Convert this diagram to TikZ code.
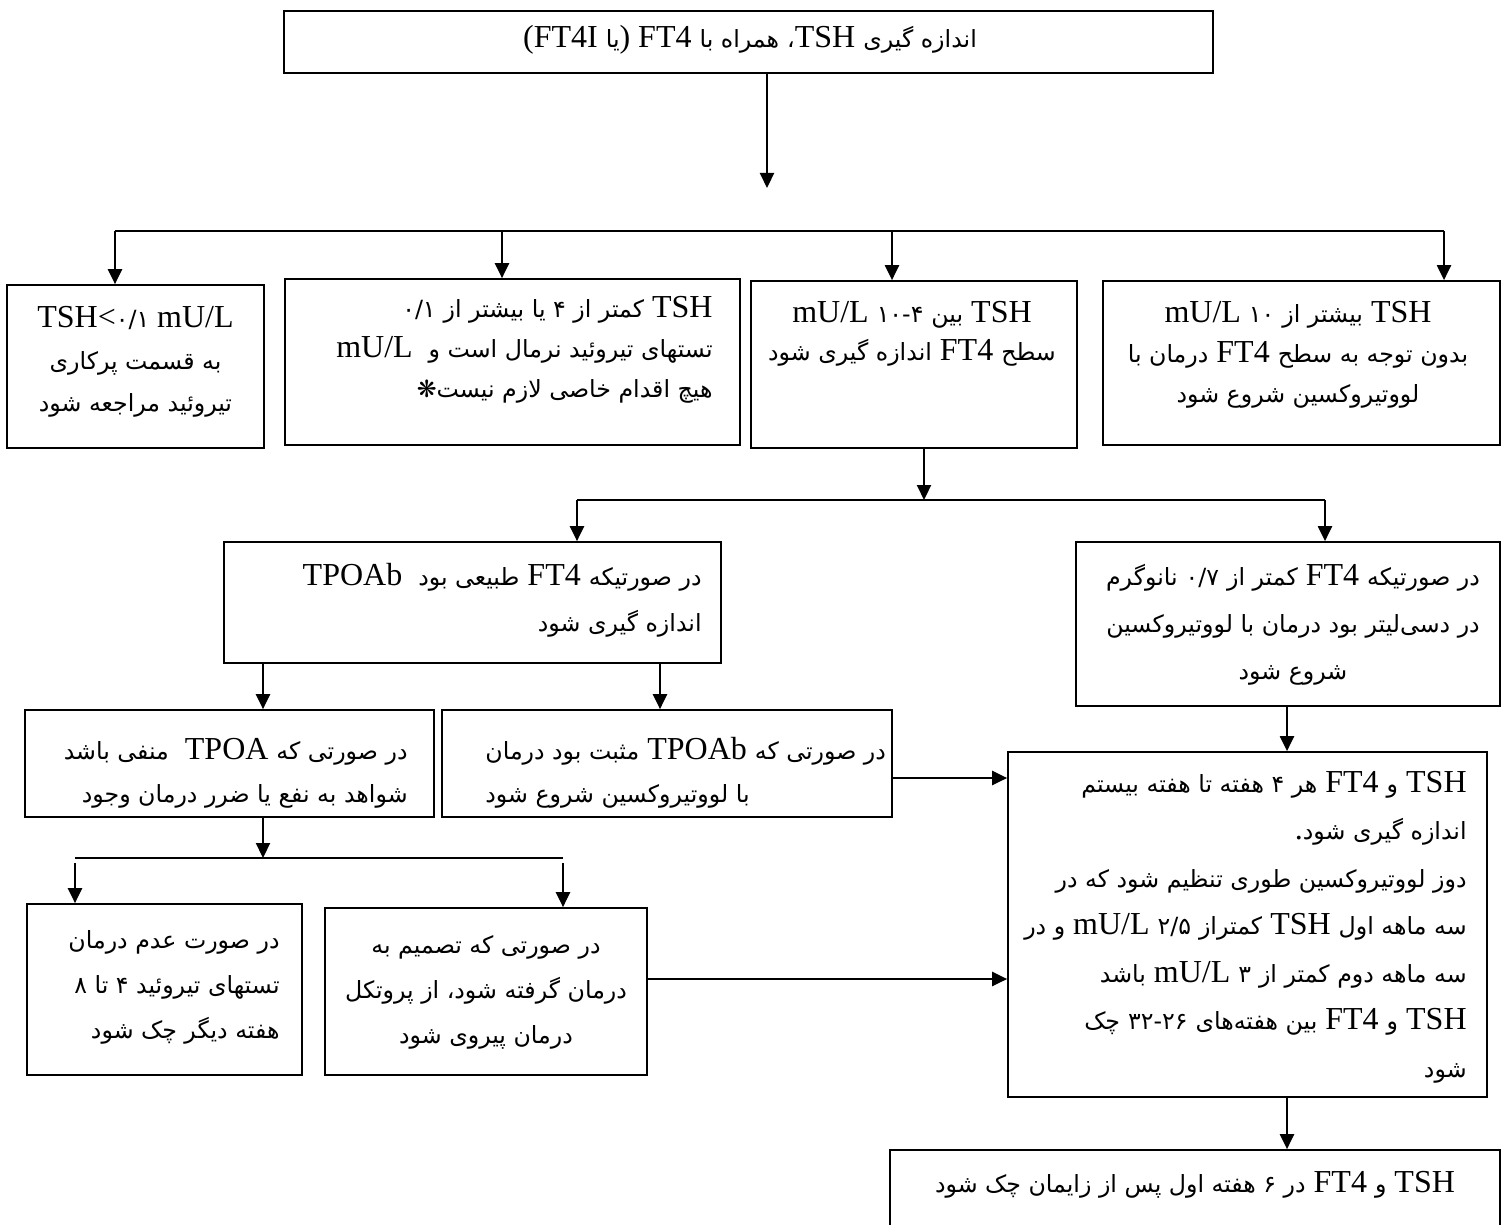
\documentclass[tikz,border=0pt]{standalone}
\usepackage{fontspec}
\setmainfont{Liberation Serif}
\newfontfamily\fa[Script=Arabic,Scale=0.74]{DejaVu Sans}
\TeXXeTstate=1
\usetikzlibrary{arrows.meta}
\newcommand\pr[1]{{\fa\beginR #1\endR}}
\newcommand\pn[1]{{\fa #1}}
\tikzset{
  box/.style={draw, line width=0.85pt, inner sep=0pt, rectangle},
  txt/.style={inner sep=0pt, font=\fontsize{16}{#1}\selectfont},
  txt/.default=23.5pt,
  conn/.style={line width=1.1pt},
  arr/.style={line width=1.1pt, -{Triangle[length=7.5pt,width=7pt]}}
}
\begin{document}
\begin{tikzpicture}[x=0.5pt,y=-0.5pt]
\useasboundingbox (0,0) rectangle (1504,1225);
% boxes
\node[box, line width=1.2pt, minimum width=464.5pt, minimum height=31pt] (A) at (748.5,42) {};
\node[box, minimum width=128.5pt, minimum height=81.5pt] (B1) at (135.5,366.5) {};
\node[box, minimum width=227.5pt, minimum height=83pt] (B2) at (512.5,362) {};
\node[box, minimum width=163pt, minimum height=83.5pt] (B3) at (914,364.5) {};
\node[box, minimum width=198.5pt, minimum height=82pt] (B4) at (1301.5,363) {};
\node[box, minimum width=248.5pt, minimum height=60.5pt] (C1) at (472.5,602.5) {};
\node[box, minimum width=212pt, minimum height=82pt] (C2) at (1288,624) {};
\node[box, minimum width=204.5pt, minimum height=53.5pt] (D1) at (229.5,763.5) {};
\node[box, minimum width=225pt, minimum height=53.5pt] (D2) at (667,763.5) {};
\node[box, minimum width=137.5pt, minimum height=85.5pt] (D3) at (164.5,989.5) {};
\node[box, minimum width=161pt, minimum height=83.5pt] (D4) at (486,991.5) {};
\node[box, minimum width=239.5pt, minimum height=172.5pt] (E) at (1247.5,924.5) {};
\node[box, minimum width=305pt, minimum height=50pt] (F) at (1195,1200) {};
% texts
\node[txt, anchor=center] (tA) at (750,40) {(FT4I \pr{یا}) FT4 \pr{همراه با} \pn{،}TSH \pr{اندازه گیری}};
\node[txt=21pt, align=center, anchor=center] (tB1) at (135.5,362) {TSH<\pn{۰/۱} mU/L\\ \pr{به قسمت پرکاری}\\ \pr{تیروئید مراجعه شود}};
\node[txt=20pt, align=right, anchor=east] (tB2) at (713,350) {\pn{۰/۱} \pr{کمتر از ۴ یا بیشتر از} TSH\\ mU/L\ \ \pr{تستهای تیروئید نرمال است و}\\ \pn{❋}\pr{هیچ اقدام خاصی لازم نیست}};
\node[txt=19pt, align=center, anchor=center] (tB3) at (912,334) {mU/L \pn{۱۰-۴} \pr{بین} TSH\\ \pr{اندازه گیری شود} FT4 \pr{سطح}};
\node[txt=20pt, align=center, anchor=center] (tB4) at (1298,355) {mU/L \pn{۱۰} \pr{بیشتر از} TSH\\ \pr{درمان با} FT4 \pr{بدون توجه به سطح}\\ \pr{لووتیروکسین شروع شود}};
\node[txt=23pt, align=right, anchor=east] (tC1) at (702,600) {TPOAb\ \ \pr{طبیعی بود} FT4 \pr{در صورتیکه}\\ \pr{اندازه گیری شود}};
\node[txt=23.5pt, align=center, anchor=center] (tC2) at (1293,625) {\pr{نانوگرم} \pn{۰/۷} \pr{کمتر از} FT4 \pr{در صورتیکه}\\ \pr{در دسی‌لیتر بود درمان با لووتیروکسین}\\ \pr{شروع شود}};
\node[txt=21.5pt, align=right, anchor=east] (tD1) at (408,773) {\pr{منفی باشد}\ \ TPOA \pr{در صورتی که}\\ \pr{شواهد به نفع یا ضرر درمان وجود}};
\node[txt=21.5pt, align=left, anchor=west] (tD2) at (485,773) {\pr{مثبت بود درمان} TPOAb \pr{در صورتی که}\\ \pr{با لووتیروکسین شروع شود}};
\node[txt=22.5pt, align=right, anchor=east] (tD3) at (280,987) {\pr{در صورت عدم درمان}\\ \pr{تستهای تیروئید ۴ تا ۸}\\ \pr{هفته دیگر چک شود}};
\node[txt=22.5pt, align=center, anchor=center] (tD4) at (486,992) {\pr{در صورتی که تصمیم به}\\ \pr{درمان گرفته شود، از پروتکل}\\ \pr{درمان پیروی شود}};
\node[txt=23.75pt, align=right, anchor=east] (tE) at (1467,927) {\pr{هر ۴ هفته تا هفته بیستم} FT4 \pr{و} TSH\\ .\pr{اندازه گیری شود}\\ \pr{دوز لووتیروکسین طوری تنظیم شود که در}\\ \pr{و در} mU/L \pn{۲/۵} \pr{کمتراز} TSH \pr{سه ماهه اول}\\ \pr{باشد} mU/L \pn{۳} \pr{سه ماهه دوم کمتر از}\\ \pr{چک} \pn{۳۲-۲۶} \pr{بین هفته‌های} FT4 \pr{و} TSH\\ \pr{شود}};
\node[txt, anchor=center] (tF) at (1195,1185) {\pr{در ۶ هفته اول پس از زایمان چک شود} FT4 \pr{و} TSH};
% coordinates for connectors
\coordinate (a1) at (767,188);
\coordinate (s1) at (115,231);
\coordinate (s2) at (502,231);
\coordinate (s3) at (892,231);
\coordinate (s4) at (1444,231);
\coordinate (j1) at (924,500);
\coordinate (j1l) at (577,500);
\coordinate (j1r) at (1325,500);
\coordinate (xc1) at (263,0);
\coordinate (xc2) at (660,0);
\coordinate (xe) at (1287,0);
\coordinate (yd2) at (0,778);
\coordinate (yd4) at (0,979);
\coordinate (j2) at (263,858);
\coordinate (j2l) at (75,858);
\coordinate (j2r) at (563,858);
\coordinate (j2la) at (75,863);
\coordinate (j2ra) at (563,863);
% connectors
\draw[arr] (A.south -| a1) -- (a1);
\draw[conn] (s1) -- (s4);
\draw[arr] (s1) -- (s1 |- B1.north);
\draw[arr] (s2) -- (s2 |- B2.north);
\draw[arr] (s3) -- (s3 |- B3.north);
\draw[arr] (s4) -- (s4 |- B4.north);
\draw[arr] (B3.south -| j1) -- (j1);
\draw[conn] (j1l) -- (j1r);
\draw[arr] (j1l) -- (j1l |- C1.north);
\draw[arr] (j1r) -- (j1r |- C2.north);
\draw[arr] (C1.south -| xc1) -- (D1.north -| xc1);
\draw[arr] (C1.south -| xc2) -- (D2.north -| xc2);
\draw[arr] (C2.south -| xe) -- (E.north -| xe);
\draw[arr] (D2.east |- yd2) -- (E.west |- yd2);
\draw[arr] (D1.south -| j2) -- (j2);
\draw[conn] (j2l) -- (j2r);
\draw[arr] (j2la) -- (j2la |- D3.north);
\draw[arr] (j2ra) -- (j2ra |- D4.north);
\draw[arr] (D4.east |- yd4) -- (E.west |- yd4);
\draw[arr] (E.south -| xe) -- (F.north -| xe);
\end{tikzpicture}
\end{document}
